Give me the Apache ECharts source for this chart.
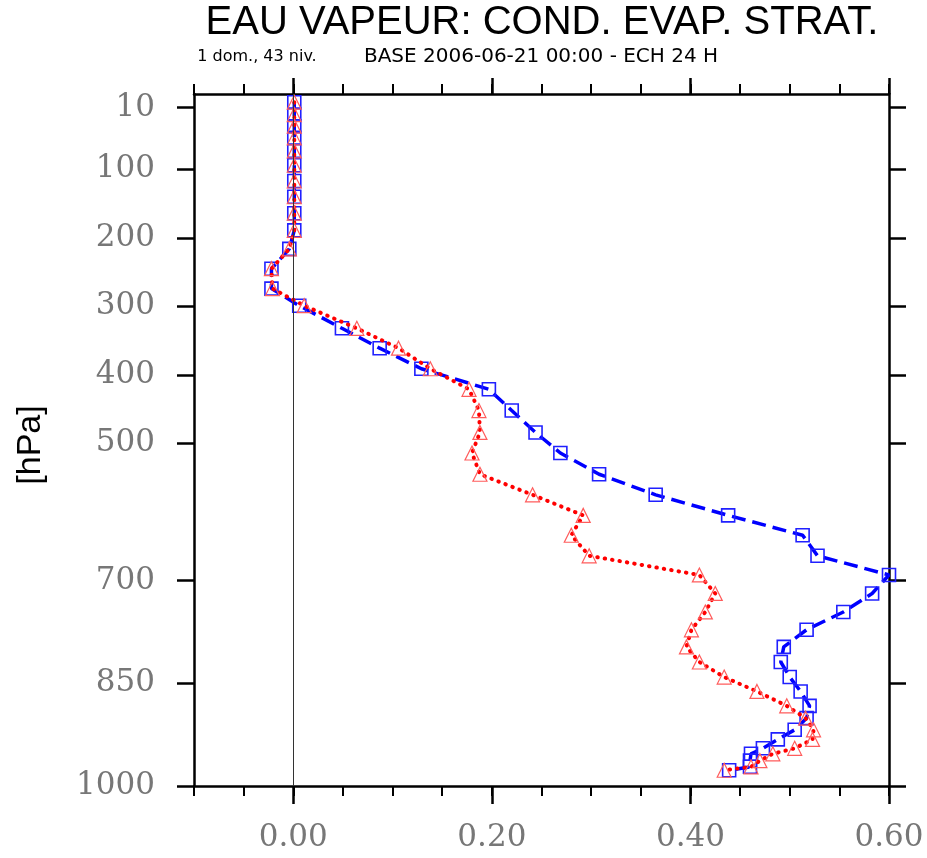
<!DOCTYPE html>
<html>
<head>
<meta charset="utf-8">
<script src="https://cdn.jsdelivr.net/npm/echarts@6/dist/echarts.min.js"></script>
<style>
html,body{margin:0;padding:0;background:#fff;}
#chart{width:927px;height:858px;}
</style>
</head>
<body>
<div id="chart"></div>
<script>
// Pressure levels (hPa), 43 model levels
const pressure = [2, 20, 37, 54, 73, 94, 117, 140, 164, 189,
  216, 245, 274, 299, 332, 361, 391, 421, 452, 484,
  514, 545, 575, 605, 634, 664, 692, 719, 746, 772,
  797, 819, 841, 862, 883, 901, 918, 932, 945, 953,
  963, 972, 977];
// Blue series (dashed, squares)
const blueVals = [0.001, 0.001, 0.001, 0.001, 0.001, 0.001, 0.001, 0.001, 0.001, 0.001,
  -0.004, -0.022, -0.022, 0.006, 0.049, 0.087, 0.129, 0.197, 0.220, 0.244,
  0.269, 0.308, 0.365, 0.438, 0.513, 0.528, 0.600, 0.583, 0.554, 0.517,
  0.494, 0.491, 0.500, 0.511, 0.520, 0.517, 0.505, 0.488, 0.473, 0.461,
  0.460, 0.460, 0.439];
// Red series (dotted, triangles)
const redVals = [0.001, 0.001, 0.001, 0.001, 0.001, 0.001, 0.001, 0.001, 0.001, 0.001,
  -0.004, -0.022, -0.021, 0.011, 0.064, 0.106, 0.138, 0.177, 0.187, 0.188,
  0.180, 0.188, 0.241, 0.292, 0.280, 0.298, 0.409, 0.425, 0.415, 0.401,
  0.396, 0.409, 0.434, 0.467, 0.497, 0.516, 0.524, 0.523, 0.505, 0.483,
  0.470, 0.461, 0.434];
const yTicks = [10, 100, 200, 300, 400, 500, 700, 850, 1000];
const xTicks = [0, 0.2, 0.4, 0.6];

const blueData = pressure.map((p, i) => [blueVals[i], p]);
const redData = pressure.map((p, i) => [redVals[i], p]);

const chart = echarts.init(document.getElementById('chart'), null, {renderer: 'canvas'});
const labelFont = {fontFamily: 'DejaVu Serif', fontSize: 31, color: '#777777'};
const frame = {show: true, onZero: false, lineStyle: {color: '#000', width: 2.5}};
const X_MIN = -0.1, X_MAX = 0.6, Y_MIN = -10, Y_MAX = 1000;

const option = {
  animation: false,
  backgroundColor: '#fff',
  grid: {left: 194, right: 38, top: 94, bottom: 72, containLabel: false},
  graphic: [
    {type: 'text', x: 542, y: 23, style: {text: 'EAU VAPEUR: COND. EVAP. STRAT.', font: '40px "Liberation Sans"', fill: '#000', textAlign: 'center', textVerticalAlign: 'middle', align: 'center', verticalAlign: 'middle'}},
    {type: 'text', x: 257, y: 57, style: {text: '1 dom., 43 niv.', font: '16px "DejaVu Sans"', fill: '#000', textAlign: 'center', textVerticalAlign: 'middle', align: 'center', verticalAlign: 'middle'}},
    {type: 'text', x: 541, y: 57, style: {text: 'BASE 2006-06-21 00:00 - ECH 24 H', font: '20px "DejaVu Sans"', fill: '#000', textAlign: 'center', textVerticalAlign: 'middle', align: 'center', verticalAlign: 'middle'}},
    {type: 'text', x: 31, y: 445, rotation: Math.PI / 2, style: {text: '[hPa]', font: '34px "Liberation Sans"', fill: '#000', textAlign: 'center', textVerticalAlign: 'middle', align: 'center', verticalAlign: 'middle'}}
  ],
  xAxis: [
    {type: 'value', position: 'bottom', min: X_MIN, max: X_MAX, splitLine: {show: false},
     axisLine: frame,
     axisTick: {show: true, customValues: xTicks, length: 18, lineStyle: {color: '#000', width: 2.5}},
     axisLabel: {show: true, customValues: xTicks, margin: 36, formatter: v => v.toFixed(2), ...labelFont}},
    {type: 'value', position: 'bottom', min: X_MIN, max: X_MAX, interval: 0.05, splitLine: {show: false},
     axisLine: {show: false, onZero: false},
     axisTick: {show: true, length: 10, lineStyle: {color: '#000', width: 2}},
     axisLabel: {show: false}},
    {type: 'value', position: 'top', min: X_MIN, max: X_MAX, splitLine: {show: false},
     axisLine: frame,
     axisTick: {show: true, customValues: xTicks, length: 16, lineStyle: {color: '#000', width: 2.5}},
     axisLabel: {show: false}},
    {type: 'value', position: 'top', min: X_MIN, max: X_MAX, interval: 0.05, splitLine: {show: false},
     axisLine: {show: false, onZero: false},
     axisTick: {show: true, length: 10, lineStyle: {color: '#000', width: 2}},
     axisLabel: {show: false}}
  ],
  yAxis: [
    {type: 'value', position: 'left', min: Y_MIN, max: Y_MAX, inverse: true, splitLine: {show: false},
     axisLine: frame,
     axisTick: {show: true, customValues: yTicks, length: 17, lineStyle: {color: '#000', width: 2.5}},
     axisLabel: {show: true, customValues: yTicks, margin: 39, formatter: v => String(v), ...labelFont}},
    {type: 'value', position: 'right', min: Y_MIN, max: Y_MAX, inverse: true, splitLine: {show: false},
     axisLine: frame,
     axisTick: {show: true, customValues: yTicks, length: 17, lineStyle: {color: '#000', width: 2.5}},
     axisLabel: {show: false}}
  ],
  series: [
    {type: 'line', name: 'blue', xAxisIndex: 0, yAxisIndex: 0, data: blueData,
     showAllSymbol: true, symbol: 'rect', symbolSize: 13,
     lineStyle: {color: '#0000ff', width: 3.5, type: [14, 7]},
     itemStyle: {color: 'rgba(0,0,0,0)', borderColor: '#2020ff', borderWidth: 1.6},
     markLine: {silent: true, symbol: ['none', 'none'], label: {show: false},
       lineStyle: {color: '#333', width: 1, type: 'solid'},
       data: [{xAxis: 0}]},
     z: 2},
    {type: 'line', name: 'red', xAxisIndex: 0, yAxisIndex: 0, data: redData,
     showAllSymbol: true, symbol: 'triangle', symbolSize: 14,
     lineStyle: {color: '#ff0000', width: 4, type: [0.5, 7], cap: 'round'},
     itemStyle: {color: 'rgba(0,0,0,0)', borderColor: '#ff5c5c', borderWidth: 1.2},
     z: 3}
  ]
};
chart.setOption(option);
</script>
</body>
</html>
